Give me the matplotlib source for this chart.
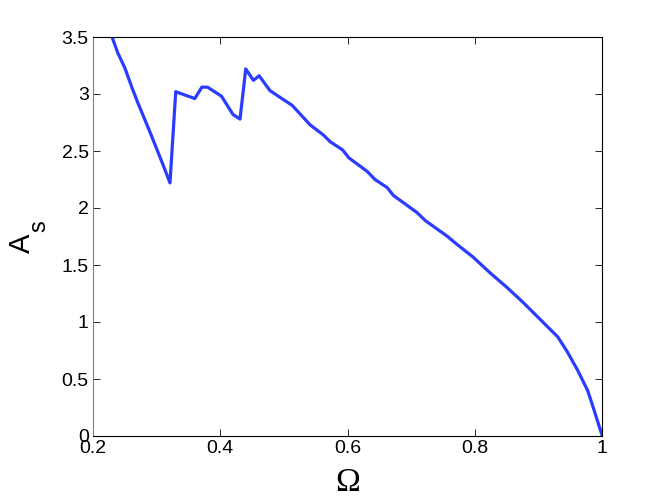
import matplotlib.pyplot as plt

# curve
omega = [0.23, 0.239, 0.25, 0.261, 0.27, 0.29, 0.31, 0.321, 0.33, 0.36, 0.371,
         0.38, 0.402, 0.42, 0.431, 0.44, 0.452, 0.461, 0.478, 0.494, 0.513,
         0.541, 0.562, 0.573, 0.592, 0.602, 0.631, 0.643, 0.662, 0.672, 0.709,
         0.722, 0.757, 0.772, 0.797, 0.824, 0.851, 0.876, 0.903, 0.93, 0.945,
         0.961, 0.977, 0.987, 1.0]
a_s = [3.5, 3.36, 3.23, 3.06, 2.93, 2.66, 2.38, 2.22, 3.02, 2.96, 3.06,
       3.06, 2.98, 2.82, 2.78, 3.22, 3.12, 3.16, 3.03, 2.97, 2.90,
       2.73, 2.64, 2.58, 2.51, 2.44, 2.32, 2.25, 2.18, 2.11, 1.96,
       1.89, 1.75, 1.68, 1.57, 1.43, 1.30, 1.17, 1.02, 0.87, 0.74,
       0.58, 0.40, 0.23, 0.0]

xticks = [0.2, 0.4, 0.6, 0.8, 1.0]
xticklabels = ['0.2', '0.4', '0.6', '0.8', '1']
yticks = [0, 0.5, 1, 1.5, 2, 2.5, 3, 3.5]
yticklabels = ['0', '0.5', '1', '1.5', '2', '2.5', '3', '3.5']

plt.rcParams['font.family'] = ['Liberation Sans', 'DejaVu Sans']

fig = plt.figure(figsize=(6.64, 5.0), dpi=100)
ax = fig.add_axes([0.140, 0.128, 0.767, 0.798])

ax.plot(omega, a_s, color='#2a3cff', linewidth=2.3)

ax.set_xlim(0.2, 1.0)
ax.set_ylim(0, 3.5)
ax.set_xticks(xticks)
ax.set_xticklabels(xticklabels)
ax.set_yticks(yticks)
ax.set_yticklabels(yticklabels)
ax.tick_params(direction='in', top=True, right=True, length=5, width=0.6,
               labelsize=14, pad=3)
for s in ax.spines.values():
    s.set_linewidth(0.8)
ax.spines['left'].set_color('#808080')

ax.set_xlabel('Ω', fontsize=24, family='Liberation Serif')
ax.xaxis.set_label_coords(0.5, -0.080)

# y label drawn as "A" with a large, low "s" (MATLAB style subscript)
fig.text(30 / 664, 1 - 243 / 500, 'A', fontsize=21, rotation=90,
         rotation_mode='anchor', ha='center', va='baseline')
fig.text(45 / 664, 1 - 226 / 500, 's', fontsize=17, rotation=90,
         rotation_mode='anchor', ha='center', va='baseline')

fig.savefig('out.png', dpi=100)
